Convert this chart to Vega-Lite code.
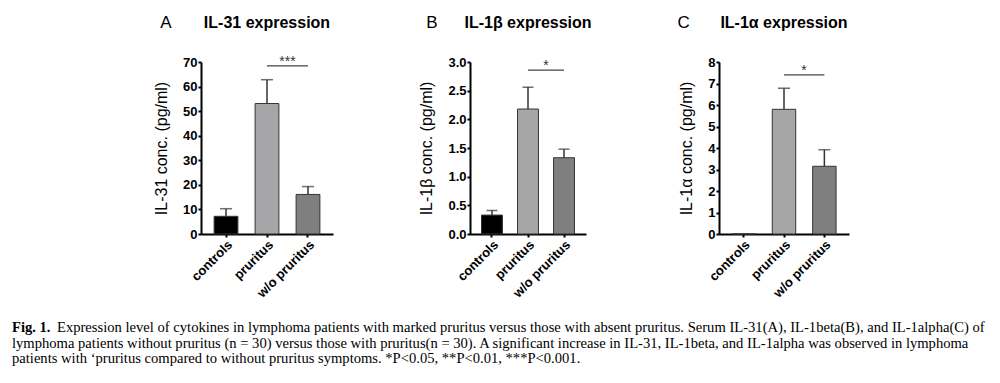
{
  "$schema": "https://vega.github.io/schema/vega-lite/v6.json",
  "background": "white",
  "padding": {"left": 12, "right": -40, "top": 14, "bottom": 0},
  "datasets": {
    "barsA": [
      {"group": "controls", "value": 7.2, "upper": 10.3},
      {"group": "pruritus", "value": 53.1, "upper": 62.8},
      {"group": "w/o pruritus", "value": 16.1, "upper": 19.3}
    ],
    "barsB": [
      {"group": "controls", "value": 0.33, "upper": 0.41},
      {"group": "pruritus", "value": 2.18, "upper": 2.56},
      {"group": "w/o pruritus", "value": 1.33, "upper": 1.48}
    ],
    "barsC": [
      {"group": "controls", "value": 0, "upper": null},
      {"group": "pruritus", "value": 5.8, "upper": 6.78},
      {"group": "w/o pruritus", "value": 3.15, "upper": 3.92}
    ],
    "sigA": [{"panel": "A", "from": "pruritus", "to": "w/o pruritus", "y": 68.4, "stars": "***"}],
    "sigB": [{"panel": "B", "from": "pruritus", "to": "w/o pruritus", "y": 2.86, "stars": "*"}],
    "sigC": [{"panel": "C", "from": "pruritus", "to": "w/o pruritus", "y": 7.4, "stars": "*"}],
    "caption": [
      {"part": "bold", "line": 1, "text": "Fig. 1."},
      {"part": "rest1", "line": 1, "text": "Expression level of cytokines in lymphoma patients with marked pruritus versus those with absent pruritus. Serum IL-31(A), IL-1beta(B), and IL-1alpha(C) of"},
      {"part": "rest", "line": 2, "text": "lymphoma patients without pruritus (n = 30) versus those with pruritus(n = 30). A significant increase in IL-31, IL-1beta, and IL-1alpha was observed in lymphoma"},
      {"part": "rest", "line": 3, "text": "patients with ‘pruritus compared to without pruritus symptoms. *P<0.05, **P<0.01, ***P<0.001."}
    ]
  },
  "vconcat": [
    {
      "hconcat": [
        {
          "width": 132, "height": 172,
          "title": {"text": "IL-31 expression"},
          "data": {"name": "barsA"},
          "layer": [
            {
              "mark": {"type": "bar", "stroke": "#333333", "strokeWidth": 1},
              "encoding": {
                "x": {"field": "group", "type": "nominal", "title": null, "scale": {"domain": ["controls", "pruritus", "w/o pruritus"], "paddingInner": 0.42, "paddingOuter": 0.32}},
                "y": {"field": "value", "type": "quantitative", "title": "IL-31 conc. (pg/ml)", "scale": {"domain": [0, 70], "nice": false}, "axis": {"values": [0, 10, 20, 30, 40, 50, 60, 70]}},
                "color": {"field": "group", "type": "nominal", "legend": null, "scale": {"domain": ["controls", "pruritus", "w/o pruritus"], "range": ["#000000", "#a6a6a9", "#7f7f7f"]}}
              }
            },
            {
              "transform": [{"filter": "isValid(datum.upper)"}],
              "mark": {"type": "rule", "color": "#333333", "strokeWidth": 1.5},
              "encoding": {
                "x": {"field": "group", "type": "nominal", "title": null},
                "y": {"field": "value", "type": "quantitative", "title": "IL-31 conc. (pg/ml)", "axis": {"values": [0, 10, 20, 30, 40, 50, 60, 70]}},
                "y2": {"field": "upper"}
              }
            },
            {
              "transform": [{"filter": "isValid(datum.upper)"}],
              "mark": {"type": "tick", "color": "#333333", "size": 12, "thickness": 1.5},
              "encoding": {
                "x": {"field": "group", "type": "nominal", "title": null},
                "y": {"field": "upper", "type": "quantitative", "title": "IL-31 conc. (pg/ml)", "axis": {"values": [0, 10, 20, 30, 40, 50, 60, 70]}}
              }
            },
            {
              "data": {"name": "sigA"},
              "mark": {"type": "rule", "color": "#444444", "strokeWidth": 1.2},
              "encoding": {
                "x": {"field": "from", "type": "nominal", "title": null, "bandPosition": 0.5},
                "x2": {"field": "to", "bandPosition": 0.5},
                "y": {"field": "y", "type": "quantitative", "title": "IL-31 conc. (pg/ml)", "axis": {"values": [0, 10, 20, 30, 40, 50, 60, 70]}}
              }
            },
            {
              "data": {"name": "sigA"},
              "mark": {"type": "text", "fontSize": 14, "color": "#333333", "baseline": "bottom", "dx": 20.5, "dy": 3, "font": "Liberation Sans"},
              "encoding": {
                "x": {"field": "from", "type": "nominal", "title": null, "bandPosition": 0.5},
                "y": {"field": "y", "type": "quantitative", "title": "IL-31 conc. (pg/ml)", "axis": {"values": [0, 10, 20, 30, 40, 50, 60, 70]}},
                "text": {"field": "stars"}
              }
            },
            {
              "data": {"name": "sigA"},
              "mark": {"type": "text", "fontSize": 17, "color": "#000000", "baseline": "alphabetic", "align": "center", "dx": -60, "dy": -34, "font": "Liberation Sans"},
              "encoding": {
                "x": {"datum": "controls"},
                "y": {"datum": 70, "axis": {"values": [0, 10, 20, 30, 40, 50, 60, 70]}},
                "text": {"field": "panel"}
              }
            }
          ]
        },
        {
          "width": 116, "height": 172,
          "title": {"text": "IL-1β expression"},
          "data": {"name": "barsB"},
          "layer": [
            {
              "mark": {"type": "bar", "stroke": "#333333", "strokeWidth": 1},
              "encoding": {
                "x": {"field": "group", "type": "nominal", "title": null, "scale": {"domain": ["controls", "pruritus", "w/o pruritus"], "paddingInner": 0.42, "paddingOuter": 0.32}},
                "y": {"field": "value", "type": "quantitative", "title": "IL-1β conc. (pg/ml)", "scale": {"domain": [0, 3], "nice": false}, "axis": {"values": [0, 0.5, 1, 1.5, 2, 2.5, 3], "format": ".1f"}},
                "color": {"field": "group", "type": "nominal", "legend": null, "scale": {"domain": ["controls", "pruritus", "w/o pruritus"], "range": ["#000000", "#a6a6a9", "#7f7f7f"]}}
              }
            },
            {
              "transform": [{"filter": "isValid(datum.upper)"}],
              "mark": {"type": "rule", "color": "#333333", "strokeWidth": 1.5},
              "encoding": {
                "x": {"field": "group", "type": "nominal", "title": null},
                "y": {"field": "value", "type": "quantitative", "title": "IL-1β conc. (pg/ml)", "axis": {"values": [0, 0.5, 1, 1.5, 2, 2.5, 3], "format": ".1f"}},
                "y2": {"field": "upper"}
              }
            },
            {
              "transform": [{"filter": "isValid(datum.upper)"}],
              "mark": {"type": "tick", "color": "#333333", "size": 11, "thickness": 1.5},
              "encoding": {
                "x": {"field": "group", "type": "nominal", "title": null},
                "y": {"field": "upper", "type": "quantitative", "title": "IL-1β conc. (pg/ml)", "axis": {"values": [0, 0.5, 1, 1.5, 2, 2.5, 3], "format": ".1f"}}
              }
            },
            {
              "data": {"name": "sigB"},
              "mark": {"type": "rule", "color": "#444444", "strokeWidth": 1.2},
              "encoding": {
                "x": {"field": "from", "type": "nominal", "title": null, "bandPosition": 0.5},
                "x2": {"field": "to", "bandPosition": 0.5},
                "y": {"field": "y", "type": "quantitative", "title": "IL-1β conc. (pg/ml)", "axis": {"values": [0, 0.5, 1, 1.5, 2, 2.5, 3], "format": ".1f"}}
              }
            },
            {
              "data": {"name": "sigB"},
              "mark": {"type": "text", "fontSize": 14, "color": "#333333", "baseline": "bottom", "dx": 18, "dy": 3, "font": "Liberation Sans"},
              "encoding": {
                "x": {"field": "from", "type": "nominal", "title": null, "bandPosition": 0.5},
                "y": {"field": "y", "type": "quantitative", "title": "IL-1β conc. (pg/ml)", "axis": {"values": [0, 0.5, 1, 1.5, 2, 2.5, 3], "format": ".1f"}},
                "text": {"field": "stars"}
              }
            },
            {
              "data": {"name": "sigB"},
              "mark": {"type": "text", "fontSize": 17, "color": "#000000", "baseline": "alphabetic", "align": "center", "dx": -60, "dy": -34, "font": "Liberation Sans"},
              "encoding": {
                "x": {"datum": "controls"},
                "y": {"datum": 3, "axis": {"values": [0, 0.5, 1, 1.5, 2, 2.5, 3], "format": ".1f"}},
                "text": {"field": "panel"}
              }
            }
          ]
        },
        {
          "width": 130, "height": 172,
          "title": {"text": "IL-1α expression"},
          "data": {"name": "barsC"},
          "layer": [
            {
              "mark": {"type": "bar", "stroke": "#333333", "strokeWidth": 1},
              "encoding": {
                "x": {"field": "group", "type": "nominal", "title": null, "scale": {"domain": ["controls", "pruritus", "w/o pruritus"], "paddingInner": 0.42, "paddingOuter": 0.32}},
                "y": {"field": "value", "type": "quantitative", "title": "IL-1α conc. (pg/ml)", "scale": {"domain": [0, 8], "nice": false}, "axis": {"values": [0, 1, 2, 3, 4, 5, 6, 7, 8]}},
                "color": {"field": "group", "type": "nominal", "legend": null, "scale": {"domain": ["controls", "pruritus", "w/o pruritus"], "range": ["#000000", "#a6a6a9", "#7f7f7f"]}}
              }
            },
            {
              "transform": [{"filter": "isValid(datum.upper)"}],
              "mark": {"type": "rule", "color": "#333333", "strokeWidth": 1.5},
              "encoding": {
                "x": {"field": "group", "type": "nominal", "title": null},
                "y": {"field": "value", "type": "quantitative", "title": "IL-1α conc. (pg/ml)", "axis": {"values": [0, 1, 2, 3, 4, 5, 6, 7, 8]}},
                "y2": {"field": "upper"}
              }
            },
            {
              "transform": [{"filter": "isValid(datum.upper)"}],
              "mark": {"type": "tick", "color": "#333333", "size": 12, "thickness": 1.5},
              "encoding": {
                "x": {"field": "group", "type": "nominal", "title": null},
                "y": {"field": "upper", "type": "quantitative", "title": "IL-1α conc. (pg/ml)", "axis": {"values": [0, 1, 2, 3, 4, 5, 6, 7, 8]}}
              }
            },
            {
              "data": {"name": "sigC"},
              "mark": {"type": "rule", "color": "#444444", "strokeWidth": 1.2},
              "encoding": {
                "x": {"field": "from", "type": "nominal", "title": null, "bandPosition": 0.5},
                "x2": {"field": "to", "bandPosition": 0.5},
                "y": {"field": "y", "type": "quantitative", "title": "IL-1α conc. (pg/ml)", "axis": {"values": [0, 1, 2, 3, 4, 5, 6, 7, 8]}}
              }
            },
            {
              "data": {"name": "sigC"},
              "mark": {"type": "text", "fontSize": 14, "color": "#333333", "baseline": "bottom", "dx": 20, "dy": 3, "font": "Liberation Sans"},
              "encoding": {
                "x": {"field": "from", "type": "nominal", "title": null, "bandPosition": 0.5},
                "y": {"field": "y", "type": "quantitative", "title": "IL-1α conc. (pg/ml)", "axis": {"values": [0, 1, 2, 3, 4, 5, 6, 7, 8]}},
                "text": {"field": "stars"}
              }
            },
            {
              "data": {"name": "sigC"},
              "mark": {"type": "text", "fontSize": 17, "color": "#000000", "baseline": "alphabetic", "align": "center", "dx": -60, "dy": -34, "font": "Liberation Sans"},
              "encoding": {
                "x": {"datum": "controls"},
                "y": {"datum": 8, "axis": {"values": [0, 1, 2, 3, 4, 5, 6, 7, 8]}},
                "text": {"field": "panel"}
              }
            }
          ]
        }
      ],
      "spacing": 85
    },
    {
      "width": 1026, "height": 31,
      "data": {"name": "caption"},
      "layer": [
        {
          "transform": [{"filter": "datum.part === 'bold'"}],
          "mark": {"type": "text", "align": "left", "baseline": "alphabetic", "font": "Liberation Serif", "fontSize": 14.6, "fontWeight": "bold", "color": "#000000"},
          "encoding": {
            "x": {"datum": 0, "type": "quantitative", "scale": {"domain": [0, 1]}, "axis": null},
            "y": {"field": "line", "type": "ordinal", "scale": {"type": "point", "padding": 0}, "axis": null},
            "text": {"field": "text"}
          }
        },
        {
          "transform": [{"filter": "datum.part === 'rest1'"}],
          "mark": {"type": "text", "align": "left", "baseline": "alphabetic", "font": "Liberation Serif", "fontSize": 14.6, "color": "#000000", "dx": 45},
          "encoding": {
            "x": {"datum": 0, "type": "quantitative", "axis": null},
            "y": {"field": "line", "type": "ordinal", "axis": null},
            "text": {"field": "text"}
          }
        },
        {
          "transform": [{"filter": "datum.part === 'rest'"}],
          "mark": {"type": "text", "align": "left", "baseline": "alphabetic", "font": "Liberation Serif", "fontSize": 14.6, "color": "#000000"},
          "encoding": {
            "x": {"datum": 0, "type": "quantitative", "axis": null},
            "y": {"field": "line", "type": "ordinal", "axis": null},
            "text": {"field": "text"}
          }
        }
      ]
    }
  ],
  "spacing": 20,
  "center": true,
  "config": {
    "font": "Liberation Sans",
    "view": {"stroke": null},
    "axis": {
      "domainColor": "#000000", "domainWidth": 2, "tickColor": "#000000", "tickWidth": 2, "tickSize": 3,
      "labelFont": "Liberation Sans", "labelFontWeight": "bold", "labelFontSize": 13, "labelColor": "#000000", "labelPadding": 1,
      "grid": false,
      "titleFont": "Liberation Sans", "titleFontWeight": "normal", "titleFontSize": 16, "titleColor": "#000000", "titlePadding": 13
    },
    "axisX": {"labelAngle": -45},
    "title": {"font": "Liberation Sans", "fontSize": 16, "fontWeight": "bold", "color": "#000000", "anchor": "middle", "frame": "group", "baseline": "alphabetic", "offset": -17}
  }
}
